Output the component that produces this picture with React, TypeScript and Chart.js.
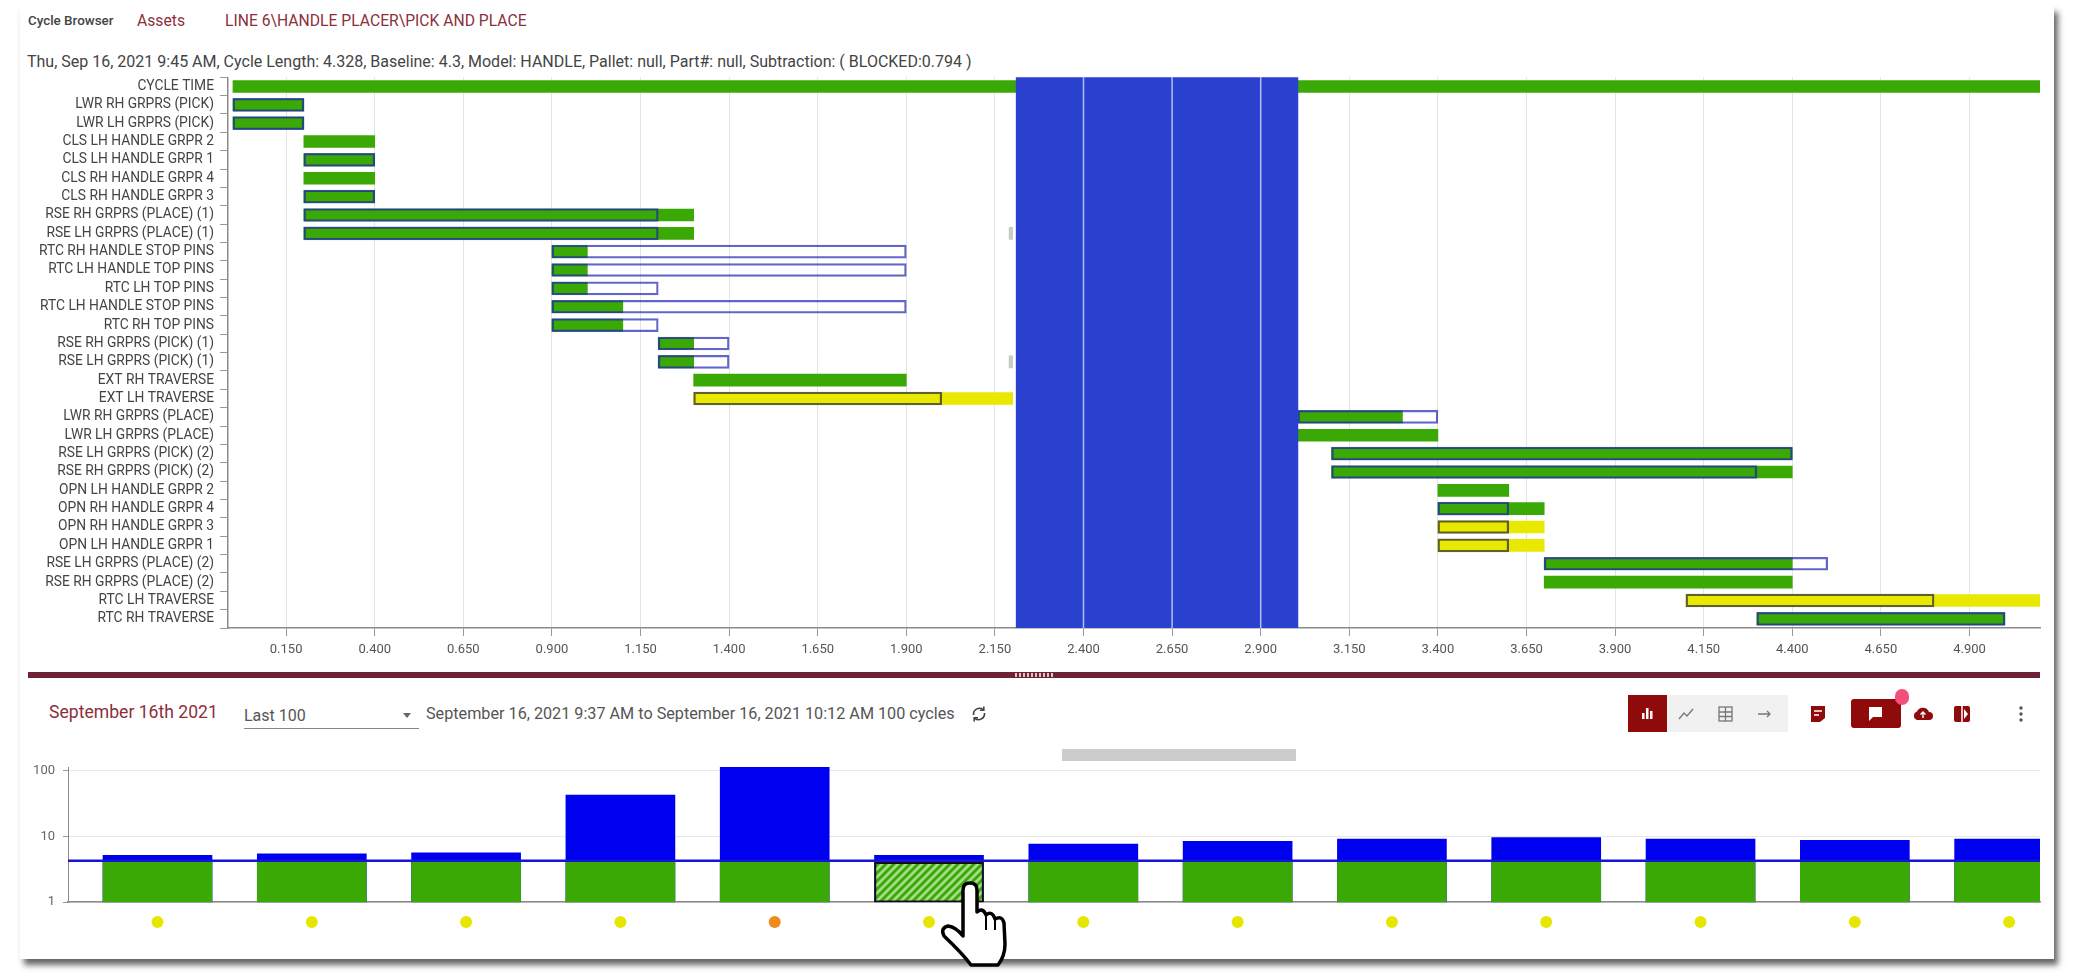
import React, { useEffect, useRef } from "react";
import { Chart, registerables } from "chart.js";

Chart.register(...registerables);

const rowLabels = [
  "CYCLE TIME", "LWR RH GRPRS (PICK)", "LWR LH GRPRS (PICK)", "CLS LH HANDLE GRPR 2", "CLS LH HANDLE GRPR 1",
  "CLS RH HANDLE GRPR 4", "CLS RH HANDLE GRPR 3", "RSE RH GRPRS (PLACE) (1)", "RSE LH GRPRS (PLACE) (1)",
  "RTC RH HANDLE STOP PINS", "RTC LH HANDLE TOP PINS", "RTC LH TOP PINS", "RTC LH HANDLE STOP PINS", "RTC RH TOP PINS",
  "RSE RH GRPRS (PICK) (1)", "RSE LH GRPRS (PICK) (1)", "EXT RH TRAVERSE", "EXT LH TRAVERSE",
  "LWR RH GRPRS (PLACE)", "LWR LH GRPRS (PLACE)", "RSE LH GRPRS (PICK) (2)", "RSE RH GRPRS (PICK) (2)",
  "OPN LH HANDLE GRPR 2", "OPN RH HANDLE GRPR 4", "OPN RH HANDLE GRPR 3", "OPN LH HANDLE GRPR 1",
  "RSE LH GRPRS (PLACE) (2)", "RSE RH GRPRS (PLACE) (2)", "RTC LH TRAVERSE", "RTC RH TRAVERSE",
];
const actualStart = [0, 0, 0, 0.2, 0.2, 0.2, 0.2, 0.2, 0.2, 0.9, 0.9, 0.9, 0.9, 0.9, 1.2, 1.2, 1.3, 1.3, 3.005, 3.005, 3.1, 3.1, 3.4, 3.4, 3.4, 3.4, 3.7, 3.7, 4.1, 4.3];
const actualEnd = [5.11, 0.2, 0.2, 0.4, 0.4, 0.4, 0.4, 1.3, 1.3, 1.0, 1.0, 1.0, 1.1, 1.1, 1.3, 1.3, 1.9, 2.2, 3.3, 3.4, 4.4, 4.4, 3.6, 3.7, 3.7, 3.7, 4.4, 4.4, 5.11, 5.0];
const baselineStart = [null, 0, 0, null, 0.2, null, 0.2, 0.2, 0.2, 0.9, 0.9, 0.9, 0.9, 0.9, 1.2, 1.2, null, 1.3, 3.005, null, 3.1, 3.1, null, 3.4, 3.4, 3.4, 3.7, null, 4.1, 4.3];
const baselineEnd = [null, 0.2, 0.2, null, 0.4, null, 0.4, 1.2, 1.2, 1.9, 1.9, 1.2, 1.9, 1.2, 1.4, 1.4, null, 2.0, 3.4, null, 4.4, 4.3, null, 3.6, 3.6, 3.6, 4.5, null, 4.8, 5.0];
const lateRows = ["EXT LH TRAVERSE", "OPN RH HANDLE GRPR 3", "OPN LH HANDLE GRPR 1", "RTC LH TRAVERSE"];
const tickMarkRows = ["RSE LH GRPRS (PLACE) (1)", "RSE LH GRPRS (PICK) (1)"];
const tickMarkSpan = [2.19, 2.2];
const blockedSpan = [2.21, 3.005];
const ganttTicks = [0.15, 0.4, 0.65, 0.9, 1.15, 1.4, 1.65, 1.9, 2.15, 2.4, 2.65, 2.9, 3.15, 3.4, 3.65, 3.9, 4.15, 4.4, 4.65, 4.9];

const cycleIndex = [0, 1, 2, 3, 4, 5, 6, 7, 8, 9, 10, 11, 12];
const cycleTotal = [5.2, 5.46, 5.66, 43, 114, 5.2, 7.7, 8.5, 9.2, 9.7, 9.2, 8.75, 9.2];
const cycleBase = [4.05, 4.05, 4.05, 4.05, 4.05, 4.05, 4.05, 4.05, 4.05, 4.05, 4.05, 4.05, 4.05];
const cycleDot = ["#e6e600", "#e6e600", "#e6e600", "#e6e600", "#f08a1d", "#e6e600", "#e6e600", "#e6e600", "#e6e600", "#e6e600", "#e6e600", "#e6e600", "#e6e600"];
const dotLevel = 0.5;
const baselineValue = 4.3;
const selectedCycle = 5;
const logTicks = [1, 10, 100];

const GREEN = "#3aa905";
const YELLOW = "#e8e800";
const FONT = "Roboto";

const Text = ({ x, y, size, color, weight, children }: any) => (
  <span style={{ position: "absolute", left: x, top: y, fontSize: size, color, fontWeight: weight || 400, fontFamily: FONT, whiteSpace: "nowrap", lineHeight: "16px" }}>{children}</span>
);
const Box = ({ x, y, w, h, bg, style }: any) => (
  <div style={{ position: "absolute", left: x, top: y, width: w, height: h, background: bg, ...style }} />
);

export default function App() {
  const ganttRef = useRef<HTMLCanvasElement>(null);
  const cycleRef = useRef<HTMLCanvasElement>(null);
  const dotsRef = useRef<HTMLCanvasElement>(null);

  useEffect(() => {
    const gridOverBlock = {
      id: "gridOverBlock",
      afterDatasetsDraw(chart: any) {
        const { ctx, scales, chartArea } = chart;
        ctx.save();
        ctx.strokeStyle = "rgba(225,232,255,0.75)";
        ctx.lineWidth = 1.5;
        ganttTicks.filter((t) => t > blockedSpan[0] && t < blockedSpan[1]).forEach((t) => {
          const px = scales.x.getPixelForValue(t);
          ctx.beginPath();
          ctx.moveTo(px, chartArea.top);
          ctx.lineTo(px, chartArea.bottom);
          ctx.stroke();
        });
        ctx.restore();
      },
    };

    const gantt = new Chart(ganttRef.current!, {
      type: "bar",
      plugins: [gridOverBlock],
      data: {
        labels: rowLabels,
        datasets: [
          {
            label: "Blocked",
            data: [blockedSpan] as any,
            yAxisID: "yBlock",
            backgroundColor: "#2a41cf",
            barPercentage: 1,
            categoryPercentage: 1,
            order: 0,
            grouped: false,
          } as any,
          {
            label: "Baseline",
            data: rowLabels.map((_, i) => (baselineStart[i] === null ? null : [baselineStart[i], baselineEnd[i]])) as any,
            backgroundColor: "rgba(0,0,0,0)",
            borderColor: rowLabels.map((l) => (lateRows.includes(l) ? "rgba(70,70,50,0.85)" : "rgba(25,30,175,0.68)")),
            borderWidth: 1.6,
            borderSkipped: false,
            barThickness: 13,
            order: 1,
            grouped: false,
          } as any,
          {
            label: "Actual",
            data: rowLabels.map((_, i) => [actualStart[i], actualEnd[i]]) as any,
            backgroundColor: rowLabels.map((l) => (lateRows.includes(l) ? YELLOW : GREEN)),
            barThickness: 12,
            order: 2,
            grouped: false,
          } as any,
          {
            label: "Marks",
            data: rowLabels.map((l) => (tickMarkRows.includes(l) ? tickMarkSpan : null)) as any,
            backgroundColor: "#c6ccc8",
            barThickness: 12,
            order: 3,
            grouped: false,
          } as any,
        ],
      },
      options: {
        indexAxis: "y",
        responsive: false,
        animation: false,
        layout: { padding: { top: 5, right: 34, left: 0, bottom: 0 } },
        plugins: { legend: { display: false }, tooltip: { enabled: false } },
        scales: {
          x: {
            type: "linear",
            min: -0.014,
            max: 5.099,
            afterBuildTicks: (s: any) => { s.ticks = ganttTicks.map((value) => ({ value })); },
            afterFit: (s: any) => { s.height = 42; },
            ticks: { autoSkip: false, maxRotation: 0, padding: 6, color: "#555", font: { family: FONT, size: 13 }, callback: (v: any) => Number(v).toFixed(3) },
            grid: { color: "#e4e4e4", tickColor: "#999", tickLength: 8, lineWidth: 1 },
            border: { color: "#8a8a8a", width: 1.5 },
          },
          y: {
            type: "category",
            offset: true,
            afterFit: (s: any) => { s.width = 228; },
            ticks: { autoSkip: false, padding: 6, color: "#444", font: { family: FONT, size: 13.8 } },
            grid: { offset: true, drawOnChartArea: false, tickColor: "#999", tickLength: 8 },
            border: { color: "#8a8a8a", width: 1.5 },
          },
          yBlock: {
            type: "category",
            labels: ["BLOCKED"],
            offset: true,
            display: false,
            grid: { offset: true },
          },
        },
      } as any,
    });

    const hatch = document.createElement("canvas");
    hatch.width = 8;
    hatch.height = 8;
    const hctx = hatch.getContext("2d")!;
    hctx.fillStyle = "#a6dc8c";
    hctx.fillRect(0, 0, 8, 8);
    hctx.strokeStyle = GREEN;
    hctx.lineWidth = 3;
    [[-2, 2, 2, -2], [0, 8, 8, 0], [6, 10, 10, 6]].forEach(([a, b, c, d]) => {
      hctx.beginPath();
      hctx.moveTo(a, b);
      hctx.lineTo(c, d);
      hctx.stroke();
    });
    const pattern = hctx.createPattern(hatch, "repeat")!;

    const xMin = -0.58;
    const xMax = 12.2;

    const cycle = new Chart(cycleRef.current!, {
      data: {
        datasets: [
          {
            type: "line",
            label: "Baseline",
            data: [{ x: xMin, y: baselineValue }, { x: xMax, y: baselineValue }],
            borderColor: "#1414d8",
            borderWidth: 2.5,
            pointRadius: 0,
            order: 1,
          },
          {
            type: "bar",
            label: "Base",
            data: cycleIndex.map((i) => ({ x: i, y: cycleBase[i] })),
            backgroundColor: cycleIndex.map((i) => (i === selectedCycle ? pattern : GREEN)),
            borderColor: cycleIndex.map((i) => (i === selectedCycle ? "#111" : GREEN)),
            borderWidth: cycleIndex.map((i) => (i === selectedCycle ? 2 : 0)),
            borderSkipped: false,
            barThickness: 109,
            grouped: false,
            order: 2,
          },
          {
            type: "bar",
            label: "Total",
            data: cycleIndex.map((i) => ({ x: i, y: cycleTotal[i] })),
            backgroundColor: "#0000f0",
            barThickness: 109,
            grouped: false,
            order: 3,
          },
        ],
      } as any,
      options: {
        responsive: false,
        animation: false,
        layout: { padding: { top: 17, right: 34, left: 0, bottom: 8 } },
        plugins: { legend: { display: false }, tooltip: { enabled: false } },
        scales: {
          x: {
            type: "linear",
            offset: false,
            min: xMin,
            max: xMax,
            afterFit: (s: any) => { s.height = 0; },
            ticks: { display: false },
            grid: { display: false, offset: false },
            border: { color: "#8a8a8a", width: 1.5 },
          },
          y: {
            type: "logarithmic",
            min: 1,
            max: 115,
            afterBuildTicks: (s: any) => { s.ticks = logTicks.map((value) => ({ value })); },
            afterFit: (s: any) => { s.width = 68; },
            ticks: { padding: 8, color: "#666", font: { family: FONT, size: 13 }, callback: (v: any) => String(v) },
            grid: { color: "#e6e6e6", tickColor: "#999", tickLength: 5 },
            border: { color: "#8a8a8a", width: 1 },
          },
        },
      } as any,
    });

    const dots = new Chart(dotsRef.current!, {
      type: "scatter",
      data: {
        datasets: [
          {
            label: "Status",
            data: cycleIndex.map((i) => ({ x: i, y: dotLevel })),
            pointBackgroundColor: cycleDot,
            pointBorderWidth: 0,
            pointRadius: 6,
          },
        ],
      },
      options: {
        responsive: false,
        animation: false,
        layout: { padding: { top: 0, right: 34, left: 68, bottom: 0 } },
        plugins: { legend: { display: false }, tooltip: { enabled: false } },
        scales: {
          x: { type: "linear", display: false, min: xMin, max: xMax },
          y: { type: "linear", display: false, min: 0, max: 1 },
        },
      } as any,
    });

    return () => {
      gantt.destroy();
      cycle.destroy();
      dots.destroy();
    };
  }, []);

  return (
    <div style={{ position: "absolute", left: 0, top: 0, width: 2074, height: 973, background: "#fff", overflow: "hidden", fontFamily: FONT }}>
      <Box x={20} y={6} w={2034} h={953} bg="#fff" style={{ boxShadow: "4px 6px 6px #666" }} />
      <Text x={28} y={13} size={13.4} color="#444" weight={500}>Cycle Browser</Text>
      <Text x={137} y={13} size={15.7} color="#8c2f3a">Assets</Text>
      <Text x={225} y={13} size={15.7} color="#8c2f3a">LINE 6\HANDLE PLACER\PICK AND PLACE</Text>
      <Text x={27} y={54} size={16} color="#444">Thu, Sep 16, 2021 9:45 AM, Cycle Length: 4.328, Baseline: 4.3, Model: HANDLE, Pallet: null, Part#: null, Subtraction: ( BLOCKED:0.794 )</Text>

      <canvas ref={ganttRef} width={2074} height={607} style={{ position: "absolute", left: 0, top: 63, width: 2074, height: 607 }} />

      <Box x={28} y={672} w={2012} h={6} bg="#6f2136" />
      <Box x={1015} y={673} w={38} h={4} bg="repeating-linear-gradient(90deg,#d8c8cc 0 2px,#6f2136 2px 4px)" />

      <Text x={49} y={704} size={17.6} color="#8c2f3a">September 16th 2021</Text>
      <Text x={244} y={708} size={16} color="#555">Last 100</Text>
      <Box x={244} y={728} w={175} h={1} bg="#888" />
      <span style={{ position: "absolute", left: 403, top: 713, width: 0, height: 0, borderLeft: "4px solid transparent", borderRight: "4px solid transparent", borderTop: "5px solid #666" }} />
      <Text x={426} y={706} size={16.2} color="#555">September 16, 2021 9:37 AM to September 16, 2021 10:12 AM 100 cycles</Text>
      <svg style={{ position: "absolute", left: 970, top: 705 }} width="18" height="18" viewBox="0 0 18 18" fill="none" stroke="#444" strokeWidth="1.6">
        <path d="M3.5 10 A6 6 0 0 1 13 4.5 M14.5 8 A6 6 0 0 1 5 13.5" />
        <path d="M13.8 1.5 V5.2 H10 M4.2 16.5 V12.8 H8" />
      </svg>

      <Box x={1062} y={749} w={234} h={12} bg="#cccccc" />

      <Box x={1628} y={695} w={39} h={37} bg="#8f0a0a" />
      <svg style={{ position: "absolute", left: 1640, top: 706 }} width="15" height="15" viewBox="0 0 15 15" fill="#fff"><rect x="2" y="7" width="2.5" height="6" /><rect x="6" y="2" width="2.5" height="11" /><rect x="10" y="5" width="2.5" height="8" /></svg>
      <Box x={1667} y={695} w={121} h={37} bg="#f1f1f1" />
      <svg style={{ position: "absolute", left: 1677, top: 704 }} width="102" height="20" viewBox="0 0 102 20" fill="none" stroke="#777" strokeWidth="1.3">
        <path d="M2 15 L7 9 L10 12 L16 5" />
        <rect x="42" y="3" width="13" height="14" />
        <path d="M42 8 H55 M42 12.5 H55 M48.5 3 V17" />
        <path d="M81 10 H93 M90 7 L93 10 L90 13" />
      </svg>
      <svg style={{ position: "absolute", left: 1809, top: 704 }} width="18" height="20" viewBox="0 0 18 20"><path d="M2 2 H16 V14 L11 18 H2 Z" fill="#8f0a0a" /><path d="M5 7 H13 M5 11 H10" stroke="#fff" strokeWidth="1.6" /></svg>
      <Box x={1851} y={699} w={50} h={29} bg="#8f0a0a" style={{ borderRadius: 3 }} />
      <svg style={{ position: "absolute", left: 1867, top: 705 }} width="17" height="17" viewBox="0 0 17 17"><path d="M2 2 H15 V12 H6 L2 16 Z" fill="#fff" /></svg>
      <div style={{ position: "absolute", left: 1895, top: 689, width: 14, height: 16, borderRadius: 8, background: "#f0507a" }} />
      <svg style={{ position: "absolute", left: 1912, top: 704 }} width="22" height="20" viewBox="0 0 22 20"><path d="M5 16 A4.5 4.5 0 0 1 5 7.5 A6.5 6.5 0 0 1 17 8 A4 4 0 0 1 17 16 Z" fill="#8f0a0a" /><path d="M11 14 V8 M8.5 10.5 L11 8 L13.5 10.5" stroke="#fff" strokeWidth="1.4" fill="none" /></svg>
      <svg style={{ position: "absolute", left: 1953, top: 704 }} width="18" height="20" viewBox="0 0 18 20"><rect x="1" y="2" width="16" height="16" rx="2" fill="#8f0a0a" /><path d="M9 2 V18" stroke="#fff" strokeWidth="1.5" /><path d="M11 5 L15 10 L11 15 Z" fill="#fff" /></svg>
      <svg style={{ position: "absolute", left: 2018, top: 704 }} width="6" height="20" viewBox="0 0 6 20" fill="#555"><circle cx="3" cy="4" r="1.7" /><circle cx="3" cy="10" r="1.7" /><circle cx="3" cy="16" r="1.7" /></svg>

      <canvas ref={cycleRef} width={2074} height={168} style={{ position: "absolute", left: 0, top: 750, width: 2074, height: 168 }} />
      <canvas ref={dotsRef} width={2074} height={40} style={{ position: "absolute", left: 0, top: 902, width: 2074, height: 40 }} />

      <svg style={{ position: "absolute", left: 935, top: 878 }} width="76" height="92" viewBox="0 0 76 92">
        <path d="M28 55 L28 12 Q28 5 35 5 Q42 5 42 12 L42 34 Q48 29 51 37 Q57 32 60 41 Q67 37 69 45 L70 66 Q70 78 63 87 L36 87 Q28 76 9 58 Q5 50 13 48 Q21 49 28 58 Z" fill="#fff" stroke="#000" strokeWidth="3.5" strokeLinejoin="round" />
        <path d="M51 37 L51 52 M60 41 L60 52" stroke="#000" strokeWidth="2" fill="none" />
      </svg>
    </div>
  );
}
